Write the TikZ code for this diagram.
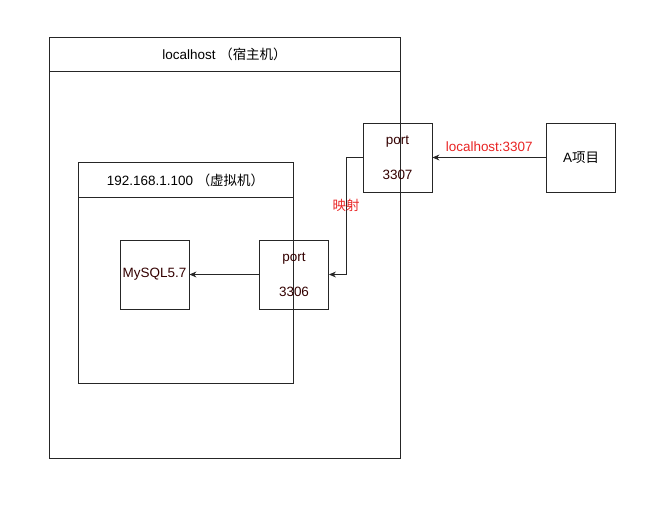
\documentclass[tikz,border=0pt]{standalone}
\usepackage{fontspec}
\setmainfont{Liberation Sans}
\newfontfamily\cjk{Noto Sans CJK SC}
\usetikzlibrary{arrows.meta}
\definecolor{labelred}{RGB}{232,36,36}
\definecolor{darktext}{RGB}{51,0,0}

\begin{document}
\begin{tikzpicture}
  [x=0.03cm, y=-0.03cm,
   font=\fontsize{11.5}{13}\selectfont,
   frame/.style={draw=black!85, line width=0.7pt},
   box/.style={rectangle, draw=black!85, line width=0.7pt, minimum width=2.07cm, minimum height=2.07cm, inner sep=0pt, align=center},
   arr/.style={-{Stealth[length=6pt, width=5pt]}, draw=black!85, line width=0.7pt},
   redlabel/.style={text=labelred, inner sep=1pt}]

  \useasboundingbox (0,0) rectangle (650,509);

  % host machine
  \node[frame, rectangle, minimum width=10.53cm, minimum height=12.63cm] (host) at (224.5,247.5) {};
  \draw[frame] (49,71) -- (400,71);
  \node (hosttitle) at (224.5,54) {localhost {\cjk （宿主机）}};

  % virtual machine
  \node[frame, rectangle, minimum width=6.45cm, minimum height=6.63cm] (vm) at (185.5,272.5) {};
  \draw[frame] (78,197) -- (293,197);
  \node (vmtitle) at (185.5,180) {192.168.1.100 {\cjk （虚拟机）}};

  \node[box, text=darktext] (mysql) at (154.5,274.5) {MySQL5.7};
  \node[box, text=darktext] (p3306) at (294,274.5) {port\\[17pt]3306};
  \node[box, text=darktext] (p3307) at (397.5,157.5) {port\\[17pt]3307};
  \node[box] (proj) at (581,157.5) {A{\cjk 项目}};

  \draw[arr] (proj) -- (p3307) node[midway, above=4pt, redlabel] {localhost:3307};
  \draw[arr] (p3307.west) -- ++(-16,0) |- (p3306.east);
  \node[redlabel] (maplabel) at (346,205) {\cjk 映射};
  \draw[arr] (p3306) -- (mysql);
\end{tikzpicture}
\end{document}
